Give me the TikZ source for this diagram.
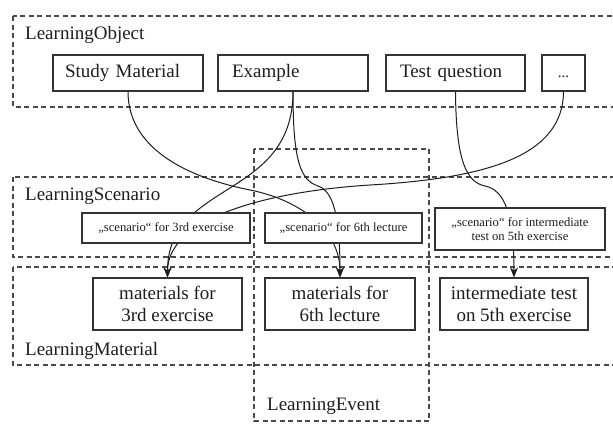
\documentclass[tikz,border=0pt]{standalone}
\usepackage{fontspec}
\setmainfont{Liberation Serif}
\usetikzlibrary{arrows.meta}
\definecolor{ink}{HTML}{1E1E1E}
\definecolor{frame}{HTML}{333333}
\definecolor{zone}{HTML}{4A4A4A}
\tikzset{
  zonebox/.style={draw=zone, line width=1.1pt, dash pattern=on 5pt off 3.5pt},
  zonelabel/.style={anchor=base west, inner sep=0pt, text=ink,
    font=\fontsize{19}{22}\selectfont},
  objbox/.style={draw=frame, line width=1.2pt, fill=white, text=ink,
    minimum height=36pt, inner ysep=0pt, align=left,
    text height=13pt, text depth=4pt,
    font=\fontsize{19}{22}\selectfont},
  scenbox/.style={draw=frame, line width=1.2pt, fill=white, text=ink,
    inner sep=0pt, align=center, font=\fontsize{12.6}{14}\selectfont},
  matbox/.style={draw=frame, line width=1.2pt, fill=white, text=ink,
    minimum height=52pt, inner sep=0pt, align=center,
    font=\fontsize{19}{22}\selectfont},
  link/.style={draw=ink, line width=1pt},
  linkto/.style={link, -{Stealth[length=10pt,width=8pt]}}
}
\begin{document}
\begin{tikzpicture}[x=1pt,y=-1pt]
\clip (0,0) rectangle (613,423);
\fill[white] (0,0) rectangle (613,423);

% layers
\draw[zonebox] (13,16) rectangle (625,107);
\draw[zonebox] (13,177) rectangle (625,257);
\draw[zonebox] (13,267) rectangle (625,365);
\draw[zonebox] (254,149) rectangle (429,421);

\node[zonelabel] (lo) at (25,39) {LearningObject};
\node[zonelabel] (ls) at (25,200) {LearningScenario};
\node[zonelabel] (lm) at (25,355) {LearningMaterial};
\node[zonelabel] (le) at (267,410) {LearningEvent};

% learning objects
\node[objbox, text width=126pt, inner xsep=12pt] (sm) at (128,73) {Study Material};
\node[objbox, text width=122pt, inner xsep=14pt] (ex) at (293,73) {Example};
\node[objbox, text width=111pt, inner xsep=14pt] (tq) at (455.5,73) {Test question};
\node[objbox, minimum width=43pt, inner xsep=0pt, align=center,
  font=\fontsize{15}{18}\selectfont] (dots) at (563.5,73) {...};

% learning materials
\node[matbox, minimum width=149pt] (m3) at (167.5,304) {materials for\\3rd exercise};
\node[matbox, minimum width=150pt] (m6) at (340,304) {materials for\\6th lecture};
\node[matbox, minimum width=148pt] (mi) at (514,304) {intermediate test\\on 5th exercise};

% connectors (the scenario boxes are drawn over them)
\draw[linkto] (ex.south) .. controls (293,200) and (167.5,180) .. (m3.north);
\draw[linkto] (dots.south) .. controls (563,155) and (490,178) .. (370,185)
  .. controls (260,192) and (167.5,220) .. (m3.north);
\draw[linkto] (sm.south) .. controls (128,150) and (190,178) .. (250,190)
  .. controls (300,200) and (340,230) .. (m6.north);
\draw[linkto] (ex.south) .. controls (293,160) and (300,180) .. (318,186)
  .. controls (333,191) and (340,215) .. (m6.north);
\draw[linkto] (tq.south) .. controls (456,160) and (466,182) .. (485,186)
  .. controls (505,190) and (514,215) .. (mi.north);

% learning scenarios
\node[scenbox, minimum width=168pt, minimum height=30pt] (s3) at (166,228)
  {„scenario“ for 3rd exercise};
\node[scenbox, minimum width=157pt, minimum height=30pt] (s6) at (343.5,228)
  {„scenario“ for 6th lecture};
\node[scenbox, minimum width=170pt, minimum height=42pt] (si) at (520,229)
  {„scenario“ for intermediate\\test on 5th exercise};
\end{tikzpicture}
\end{document}
